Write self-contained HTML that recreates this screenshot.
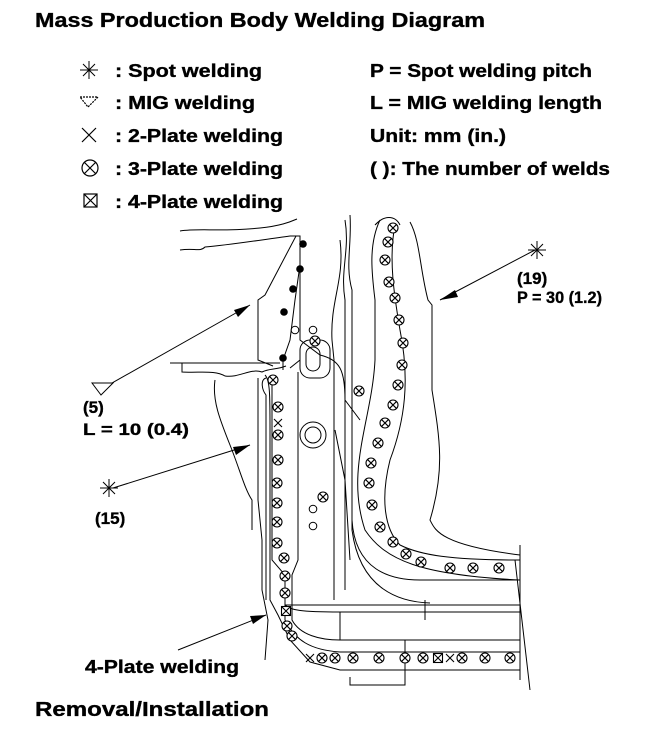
<!DOCTYPE html>
<html><head><meta charset="utf-8"><style>
html,body{margin:0;padding:0;background:#fff;}
svg{display:block;}
text{font-family:"Liberation Sans",sans-serif;font-weight:bold;fill:#000;stroke:#000;stroke-width:0.35;}
</style></head><body>
<svg width="672" height="734" viewBox="0 0 672 734" xmlns="http://www.w3.org/2000/svg">
<defs>
<g id="o"><circle r="5" fill="#fff" stroke="#000" stroke-width="1.1"/><path d="M-3.3,-3.3L3.3,3.3M3.3,-3.3L-3.3,3.3" stroke="#000" stroke-width="1.1"/></g>
<g id="b"><rect x="-4.5" y="-4.5" width="9" height="9" fill="#fff" stroke="#000" stroke-width="1.1"/><path d="M-4.5,-4.5L4.5,4.5M4.5,-4.5L-4.5,4.5" stroke="#000" stroke-width="1.1"/></g>
<g id="x"><path d="M-4,-4L4,4M4,-4L-4,4" stroke="#000" stroke-width="1.1"/></g>
<g id="s"><path d="M-9,0H9M0,-9V9M-6,-6L6,6M6,-6L-6,6" stroke="#000" stroke-width="1"/></g>
</defs>

<text x="35" y="27" font-size="20" textLength="450" lengthAdjust="spacingAndGlyphs">Mass Production Body Welding Diagram</text>

<!-- legend -->
<use href="#s" x="89" y="70"/>
<path d="M80,97H98L88,107Z" fill="none" stroke="#000" stroke-width="1.2" stroke-dasharray="2,1"/>
<path d="M82,128L96,142M96,128L82,142" stroke="#000" stroke-width="1.2"/>
<circle cx="90" cy="168" r="8" fill="none" stroke="#000" stroke-width="1.2"/>
<path d="M84,162L96,174M96,162L84,174" stroke="#000" stroke-width="1.2"/>
<rect x="84" y="194" width="13" height="13" fill="none" stroke="#000" stroke-width="1.2"/>
<path d="M84,194L97,207M97,194L84,207" stroke="#000" stroke-width="1.2"/>
<text x="115" y="77" font-size="18" textLength="147" lengthAdjust="spacingAndGlyphs">: Spot welding</text>
<text x="115" y="109" font-size="18" textLength="140" lengthAdjust="spacingAndGlyphs">: MIG welding</text>
<text x="115" y="142" font-size="18" textLength="168" lengthAdjust="spacingAndGlyphs">: 2-Plate welding</text>
<text x="115" y="175" font-size="18" textLength="168" lengthAdjust="spacingAndGlyphs">: 3-Plate welding</text>
<text x="115" y="208" font-size="18" textLength="168" lengthAdjust="spacingAndGlyphs">: 4-Plate welding</text>
<text x="370" y="77" font-size="18" textLength="222" lengthAdjust="spacingAndGlyphs">P = Spot welding pitch</text>
<text x="370" y="109" font-size="18" textLength="232" lengthAdjust="spacingAndGlyphs">L = MIG welding length</text>
<text x="370" y="142" font-size="18" textLength="136" lengthAdjust="spacingAndGlyphs">Unit: mm (in.)</text>
<text x="370" y="175" font-size="18" textLength="240" lengthAdjust="spacingAndGlyphs">( ): The number of welds</text>

<!-- drawing outlines -->
<g fill="none" stroke="#000" stroke-width="1">
<path d="M180,231C200,228 220,232 260,228 280,226 290,222 297,219"/>
<path d="M180,250C195,248 200,252 205,247 230,245 260,240 290,236"/>
<path d="M290,236H300V265 L295,300 290,340 283,360 283,370"/>
<path d="M296,236L265,295 258,300V360 L273,366"/>
<path d="M170,363H280M182,363V372C200,373 215,370 225,376 240,378 250,368 262,372 270,368 276,370 286,366"/>
<path d="M215,380C212,400 220,420 230,445 240,470 245,490 252,500V530"/>
<path d="M258,378V500 L262,540 L262,590 268,620 265,660"/>
<path d="M266,378C260,380 262,390 266,395V600"/>
<path d="M265,375C270,380 270,395 270,430V600 L278,615 290,640 310,662 340,670 520,670"/>
<path d="M272,378V560 L285,575 V620 C295,640 310,650 340,652 H520"/>
<path d="M298,372V560 L292,575 V620 C300,635 320,640 340,640 H520"/>
<path d="M300,260V340 L320,355 C340,360 345,370 345,400 L360,420"/>
<path d="M290,368L300,360"/>
<path d="M335,430L345,480 350,560"/>
<path d="M340,240C345,280 330,300 332,340 L334,360 V600"/>
<path d="M345,220C350,250 340,270 345,300 V590"/>
<path d="M350,215C352,245 345,265 352,290 V520 C355,570 390,580 420,580 H520"/>
<path d="M352,290V530 C360,590 400,602 430,603"/>
<path d="M380,220C368,245 372,275 375,300 V360 C372,420 345,470 365,530 385,560 420,575 520,580"/>
<path d="M375,225C384,215 395,215 400,225"/>
<path d="M410,222C420,240 420,270 428,300 L432,305 V390 C440,440 445,470 430,520 435,530 440,545 520,555"/>
<path d="M395,225C388,260 395,300 400,330 410,380 405,420 390,460 380,500 385,530 400,545 420,555 450,560 520,560"/>
<path d="M285,605H520M285,605C290,610 300,612 340,612H520"/>
<path d="M340,612V640M425,600V620M405,640V685H350V677"/>
<path d="M520,545V680M515,560L530,690"/>
<rect x="300" y="340" width="30" height="38" rx="10"/>
<rect x="306" y="347" width="14" height="24" rx="7"/>
<circle cx="313" cy="435" r="13"/><circle cx="313" cy="435" r="8"/>
</g>

<!-- spot dots -->
<g fill="#000"><circle cx="303" cy="244" r="3.8"/><circle cx="300" cy="269" r="3.8"/><circle cx="293" cy="289" r="3.8"/><circle cx="284" cy="312" r="3.8"/><circle cx="283" cy="358" r="3.8"/></g>
<g fill="#fff" stroke="#000" stroke-width="1"><circle cx="295" cy="330" r="3.8"/><circle cx="313" cy="330" r="3.8"/><circle cx="313" cy="509" r="3.8"/><circle cx="313" cy="526" r="3.8"/></g>

<!-- right curved column -->
<use href="#o" x="393" y="228"/><use href="#o" x="388" y="242"/><use href="#o" x="385" y="260"/><use href="#o" x="389" y="282"/><use href="#o" x="395" y="298"/><use href="#o" x="399" y="320"/><use href="#o" x="403" y="343"/><use href="#o" x="402" y="365"/><use href="#o" x="398" y="385"/><use href="#o" x="393" y="405"/><use href="#o" x="385" y="423"/><use href="#o" x="378" y="443"/><use href="#o" x="371" y="463"/><use href="#o" x="369" y="483"/><use href="#o" x="372" y="505"/><use href="#o" x="380" y="527"/><use href="#o" x="393" y="542"/><use href="#o" x="406" y="554"/><use href="#o" x="421" y="562"/><use href="#o" x="450" y="568"/><use href="#o" x="473" y="568"/><use href="#o" x="499" y="568"/>
<use href="#o" x="315" y="341"/><use href="#o" x="359" y="391"/><use href="#o" x="323" y="497"/>
<!-- left column -->
<use href="#o" x="273" y="380"/><use href="#o" x="278" y="407"/><use href="#x" x="278" y="423"/><use href="#o" x="278" y="435"/><use href="#o" x="278" y="460"/><use href="#o" x="277" y="483"/><use href="#o" x="277" y="503"/><use href="#o" x="277" y="522"/><use href="#o" x="277" y="543"/><use href="#o" x="284" y="558"/><use href="#o" x="285" y="576"/><use href="#o" x="285" y="593"/><use href="#b" x="286" y="611"/><use href="#o" x="287" y="626"/><use href="#o" x="292" y="636"/>
<!-- bottom row -->
<use href="#x" x="310" y="658"/><use href="#o" x="322" y="658"/><use href="#o" x="335" y="658"/><use href="#o" x="353" y="658"/><use href="#o" x="379" y="658"/><use href="#o" x="405" y="658"/><use href="#o" x="423" y="658"/><use href="#b" x="438" y="658"/><use href="#x" x="450" y="658"/><use href="#o" x="462" y="658"/><use href="#o" x="485" y="658"/><use href="#o" x="510" y="658"/>

<!-- leaders -->
<g stroke="#000" stroke-width="1" fill="none">
<path d="M112,383L250,305"/><path d="M92,383H113L101,395Z"/>
<path d="M113,488L250,445"/>
<path d="M178,650L266,615"/>
<path d="M535,250L440,300"/>
</g>
<g fill="#000">
<path d="M250,305L234,310 238,317Z"/>
<path d="M250,445L233,447 236,455Z"/>
<path d="M266,615L250,616 253,624Z"/>
<path d="M440,300L455,290 458,297Z"/>
</g>
<use href="#s" x="109" y="488"/>
<use href="#s" x="537" y="250"/>

<text x="517" y="284" font-size="17">(19)</text>
<text x="517" y="303" font-size="17" textLength="85" lengthAdjust="spacingAndGlyphs">P = 30 (1.2)</text>
<text x="83" y="413" font-size="17">(5)</text>
<text x="83" y="435" font-size="17" textLength="106" lengthAdjust="spacingAndGlyphs">L = 10 (0.4)</text>
<text x="95" y="524" font-size="17">(15)</text>
<text x="85" y="673" font-size="18" textLength="154" lengthAdjust="spacingAndGlyphs">4-Plate welding</text>
<text x="35" y="716" font-size="20" textLength="234" lengthAdjust="spacingAndGlyphs">Removal/Installation</text>
</svg>
</body></html>
